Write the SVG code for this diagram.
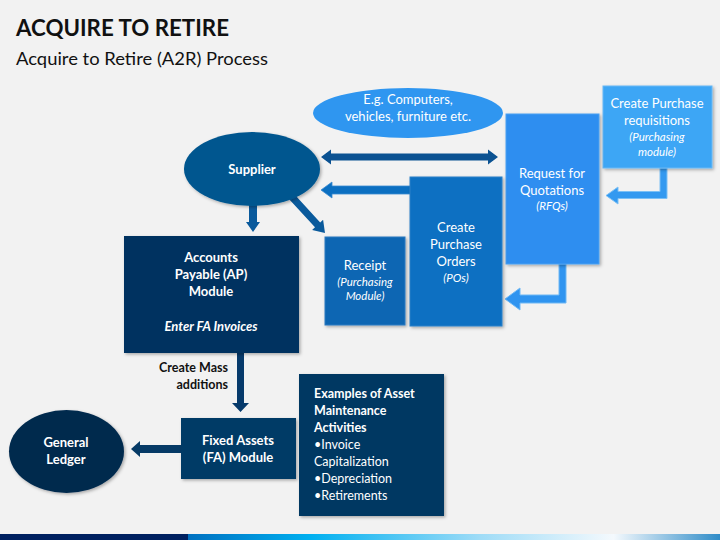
<svg xmlns="http://www.w3.org/2000/svg" width="720" height="540" viewBox="0 0 720 540">
<defs>
<filter id="sh" x="-10%" y="-10%" width="125%" height="125%">
<feDropShadow dx="1.5" dy="1.5" stdDeviation="1.5" flood-color="#000" flood-opacity="0.3"/>
</filter>
<linearGradient id="bar" x1="0" y1="0" x2="1" y2="0">
<stop offset="0" stop-color="#0070c0"/>
<stop offset="0.23" stop-color="#00b0f0"/>
<stop offset="0.55" stop-color="#9fdcf7"/>
<stop offset="0.8" stop-color="#f4f9fd"/>
<stop offset="1" stop-color="#2f8cc8"/>
</linearGradient>
</defs>
<style>
text{font-family:Lato,"Liberation Sans",Arial,sans-serif;fill:#fff;text-anchor:middle}
.t13{font-size:13px}
.b{font-weight:bold}
.i{font-style:italic;font-size:11.5px}
.dk{fill:#111}
.box{filter:url(#sh)}
</style>
<rect width="720" height="540" fill="#f2f2f2"/>
<rect x="0" y="534" width="188" height="6" fill="#002060"/>
<rect x="188" y="534" width="532" height="6" fill="url(#bar)"/>
<text x="16" y="36" class="dk b" style="font-size:22px;text-anchor:start" textLength="213" lengthAdjust="spacingAndGlyphs">ACQUIRE TO RETIRE</text>
<text x="16" y="65" class="dk" style="font-size:17px;text-anchor:start" textLength="252" lengthAdjust="spacingAndGlyphs">Acquire to Retire (A2R) Process</text>

<g id="connectors">
<polygon points="249,205 257,205 257,222 260,222 253,232 246,222 249,222" fill="#0a5a9c"/>
<polygon points="289.4,199.4 315,227.3 312.1,230 325,233 323.1,219.8 320.2,222.5 294.6,194.6" fill="#0a5a9c"/>
<polygon points="321,157 331,149.5 331,153.5 488,153.5 488,149.5 498,157 488,164.5 488,160.5 331,160.5 331,164.5" fill="#0b5292"/>
<polygon points="321,190 332,182 332,186 412,186 412,194 332,194 332,198" fill="#0b6fc1" stroke="#3a8ad0" stroke-width="0.8"/>
<polygon points="660,168 667,168 667,198.5 618,198.5 618,204 606,195.5 618,187 618,191.5 660,191.5" fill="#3399f0" stroke="#7cc0f5" stroke-width="1"/>
<polygon points="559,264 566,264 566,303 520,303 520,310 505,299 520,288 520,295 559,295" fill="#2f94f0" stroke="#6fb8f5" stroke-width="1"/>
<polygon points="237,353 244,353 244,403 249,403 240.5,412 232,403 237,403" fill="#063a6b"/>
<polygon points="181,445 140,445 140,441 131,449 140,457 140,453 181,453" fill="#063a66"/>
</g>

<g id="eg">
<ellipse cx="408" cy="113" rx="95" ry="25" fill="#2f96f0"/>
<text x="408" y="104" class="t13">E.g. Computers,</text>
<text x="408" y="121" class="t13">vehicles, furniture etc.</text>
</g>

<g id="requisitions">
<rect class="box" x="603" y="86" width="109" height="82" fill="#3ea6f5" stroke="#66b8f5" stroke-width="1"/>
<text x="657" y="108" class="t13">Create Purchase</text>
<text x="657" y="125" class="t13">requisitions</text>
<text x="657" y="141" class="i">(Purchasing</text>
<text x="657" y="156" class="i">module)</text>
</g>

<g id="rfq">
<rect class="box" x="506" y="114" width="93" height="150" fill="#2d8ef0" stroke="#4aa0f2" stroke-width="1"/>
<text x="552" y="178" class="t13">Request for</text>
<text x="552" y="195" class="t13">Quotations</text>
<text x="552" y="210" class="i">(RFQs)</text>
</g>

<g id="po">
<rect class="box" x="410" y="177" width="92" height="149" fill="#0b70c2" stroke="#2a80c8" stroke-width="1"/>
<text x="456" y="232" class="t13">Create</text>
<text x="456" y="249" class="t13">Purchase</text>
<text x="456" y="266" class="t13">Orders</text>
<text x="456" y="282" class="i">(POs)</text>
</g>

<g id="receipt">
<rect class="box" x="325" y="237" width="80" height="88" fill="#0a66b3" stroke="#2a78c0" stroke-width="1"/>
<text x="365" y="270" class="t13">Receipt</text>
<text x="365" y="286" class="i">(Purchasing</text>
<text x="365" y="300" class="i">Module)</text>
</g>

<g id="supplier">
<ellipse class="box" cx="252" cy="169" rx="68" ry="37" fill="#03578f"/>
<text x="252" y="174" class="t13 b">Supplier</text>
</g>

<g id="ap">
<rect class="box" x="124" y="236" width="175" height="117" fill="#003260"/>
<text x="211" y="262" class="t13 b">Accounts</text>
<text x="211" y="279" class="t13 b">Payable (AP)</text>
<text x="211" y="296" class="t13 b">Module</text>
<text x="211" y="331" class="t13 b" style="font-style:italic">Enter FA Invoices</text>
</g>

<g id="mass-label">
<text x="228" y="372" class="dk b" style="font-size:12.5px;text-anchor:end">Create Mass</text>
<text x="228" y="389" class="dk b" style="font-size:12.5px;text-anchor:end">additions</text>
</g>

<g id="fa">
<rect class="box" x="181" y="418" width="115" height="61" fill="#063a66"/>
<text x="238" y="445" class="t13 b">Fixed Assets</text>
<text x="238" y="462" class="t13 b">(FA) Module</text>
</g>

<g id="examples">
<rect class="box" x="299" y="374" width="145" height="142" fill="#033862"/>
<g style="text-anchor:start">
<text x="314" y="398" class="b" style="font-size:12.5px;text-anchor:start">Examples of Asset</text>
<text x="314" y="415" class="b" style="font-size:12.5px;text-anchor:start">Maintenance</text>
<text x="314" y="432" class="b" style="font-size:12.5px;text-anchor:start">Activities</text>
<text x="314" y="449" style="font-size:12.5px;text-anchor:start">•Invoice</text>
<text x="314" y="466" style="font-size:12.5px;text-anchor:start">Capitalization</text>
<text x="314" y="483" style="font-size:12.5px;text-anchor:start">•Depreciation</text>
<text x="314" y="500" style="font-size:12.5px;text-anchor:start">•Retirements</text>
</g>
</g>

<g id="gl">
<ellipse class="box" cx="66.5" cy="451.5" rx="57.5" ry="41.5" fill="#032a4e"/>
<text x="66" y="447" class="t13 b">General</text>
<text x="66" y="464" class="t13 b">Ledger</text>
</g>
</svg>
